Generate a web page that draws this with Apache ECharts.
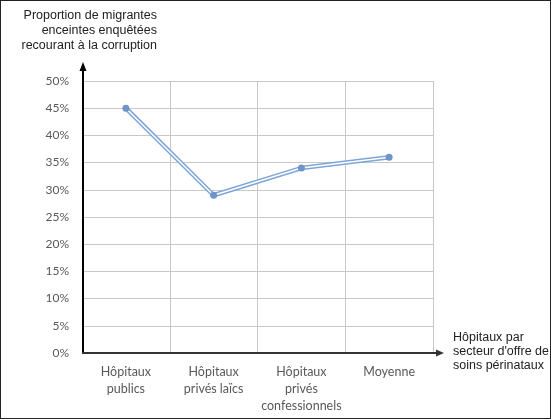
<!DOCTYPE html>
<html>
<head>
<meta charset="utf-8">
<script src="https://cdn.jsdelivr.net/npm/echarts@6/dist/echarts.min.js"></script>
<style>
  html, body { margin: 0; padding: 0; background: #fff; }
  #chart { width: 551px; height: 419px; box-sizing: border-box; border: 1px solid #222; }
</style>
</head>
<body>
<div id="chart"></div>
<script>
// Categories (hospital sectors) and surveyed share in percent
const categories = ['Hôpitaux\npublics', 'Hôpitaux\nprivés laïcs', 'Hôpitaux\nprivés\nconfessionnels', 'Moyenne'];
const proportions = [45, 29, 34, 36];
const yTicks = { min: 0, max: 50, interval: 5 };
const yAxisTitle = 'Proportion de migrantes\nenceintes enquêtées\nrecourant à la corruption';
const xAxisTitle = 'Hôpitaux par\nsecteur d\'offre de\nsoins périnataux';

const G = { left: 81, right: 117, top: 80, bottom: 65 };
const W = 551 - 2, H = 419 - 2;
const x0 = G.left, y0 = H - G.bottom, x1 = W - G.right, yTop = G.top;

const chart = echarts.init(document.getElementById('chart'), null, { renderer: 'canvas' });
const labelFont = 'Lato, "Liberation Sans", sans-serif';
const titleFont = '"Liberation Sans", Arial, sans-serif';

chart.setOption({
  animation: false,
  grid: { left: G.left, right: G.right, top: G.top, bottom: G.bottom },
  xAxis: {
    type: 'category',
    data: categories,
    boundaryGap: true,
    axisLine: { show: false },
    axisTick: { show: false },
    splitLine: { show: true, lineStyle: { color: '#c8c8c8', width: 1 } },
    axisLabel: { color: '#595959', fontFamily: labelFont, fontSize: 12.5, lineHeight: 17, margin: 10, interval: 0 }
  },
  yAxis: {
    type: 'value',
    min: yTicks.min, max: yTicks.max, interval: yTicks.interval,
    axisLine: { show: false },
    axisTick: { show: false },
    splitLine: { show: true, lineStyle: { color: '#c8c8c8', width: 1 } },
    axisLabel: { color: '#595959', fontFamily: labelFont, fontSize: 12, margin: 13, formatter: '{value}%' }
  },
  series: [
    {
      type: 'line', data: proportions, symbol: 'none', silent: true,
      lineStyle: { color: '#7fa6d8', width: 4.5 }, z: 2
    },
    {
      type: 'line', data: proportions, symbol: 'circle', symbolSize: 7, silent: true,
      itemStyle: { color: '#6f94c8' },
      lineStyle: { color: '#ffffff', width: 1.5 }, z: 3
    }
  ],
  graphic: [
    // vertical axis with arrow
    { type: 'line', shape: { x1: x0 + 1, y1: y0, x2: x0 + 1, y2: yTop - 14 }, style: { stroke: '#000', lineWidth: 2 }, z: 10 },
    { type: 'polygon', shape: { points: [[x0 + 1, yTop - 19], [x0 - 2.5, yTop - 10], [x0 + 4.5, yTop - 10]] }, style: { fill: '#000' }, z: 10 },
    // horizontal axis with arrow
    { type: 'line', shape: { x1: x0, y1: y0, x2: x1 + 6, y2: y0 }, style: { stroke: '#333', lineWidth: 2 }, z: 10 },
    { type: 'polygon', shape: { points: [[x1 + 11, y0], [x1 + 3, y0 - 3.5], [x1 + 3, y0 + 3.5]] }, style: { fill: '#333' }, z: 10 },
    // axis titles
    { type: 'text', x: 156, y: 7, style: { text: yAxisTitle, font: '12.5px ' + titleFont, fill: '#222', align: 'right', lineHeight: 15 } },
    { type: 'text', x: 452, y: 330, style: { text: xAxisTitle, font: '12.5px ' + titleFont, fill: '#222', align: 'left', lineHeight: 14 } }
  ]
});
</script>
</body>
</html>
